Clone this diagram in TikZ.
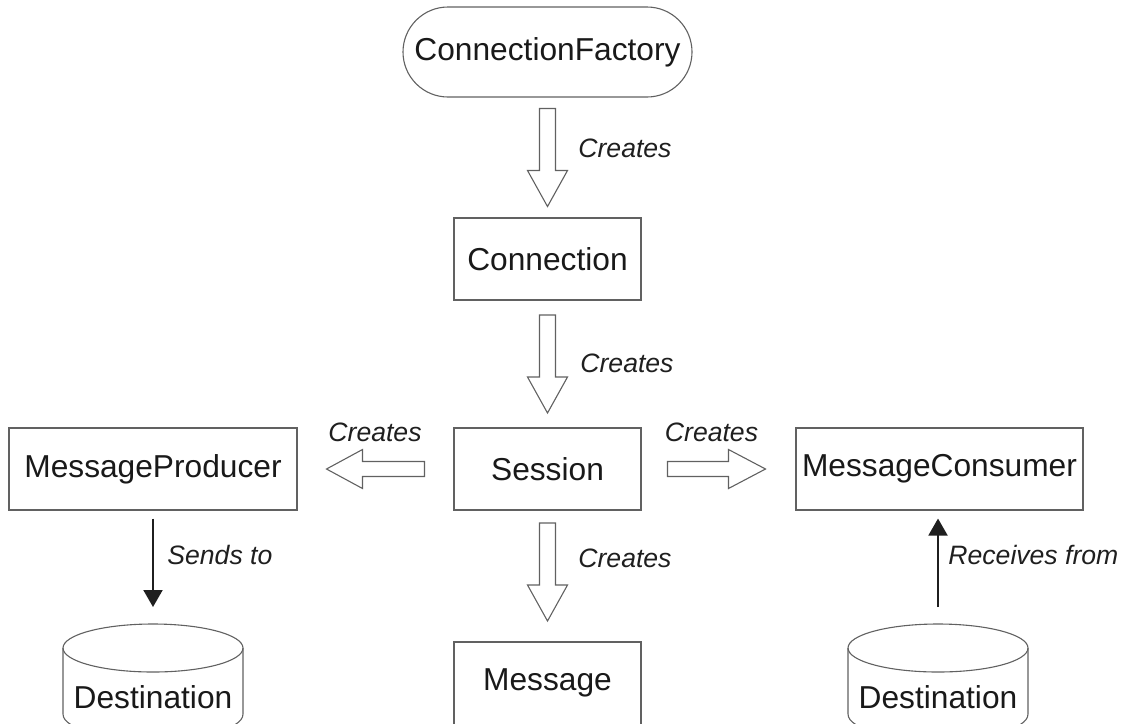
\documentclass[tikz,border=0pt]{standalone}
\usepackage{fontspec}
\setmainfont{Liberation Sans}
\usetikzlibrary{calc,arrows.meta}
\begin{document}
\begin{tikzpicture}[x=0.5pt,y=-0.5pt,
  box/.style={draw=black!62, line width=0.55pt, minimum width=93.5pt, minimum height=41pt, inner sep=0pt, font=\fontsize{15.85}{18}\selectfont, text=black!90},
  dtext/.style={inner sep=0pt, font=\fontsize{15.85}{18}\selectfont, text=black!90},
  lbl/.style={font=\fontsize{13.3}{16}\selectfont\itshape, text=black!88, inner sep=0pt},
  outl/.style={draw=black!62, line width=0.55pt, line join=miter},
  blk/.style={draw=black!88, line width=1pt, -{Triangle[length=8.5pt,width=9.5pt]}},
  pics/downarr/.style={code={\draw[outl] (-8,-49) -- (-8,13) -- (-20,13) -- (0,49) -- (20,13) -- (8,13) -- (8,-49) -- cycle;}},
  pics/leftarr/.style={code={\draw[outl] (49,-7.5) -- (-13,-7.5) -- (-13,-19.5) -- (-49,0) -- (-13,19.5) -- (-13,7.5) -- (49,7.5) -- cycle;}},
  pics/rightarr/.style={code={\draw[outl] (-49,-7.5) -- (12,-7.5) -- (12,-19.5) -- (49,0) -- (12,19.5) -- (12,7.5) -- (-49,7.5) -- cycle;}}
]
\useasboundingbox (0,0) rectangle (1122,723);
\clip (0,0) rectangle (1122,723);

% nodes
\node[box, rounded corners=22.5pt, minimum width=144.5pt, minimum height=45pt] (cf) at (547.5,52) {ConnectionFactory};
\node[box] (conn) at (547.5,259) {Connection};
\node[box] (sess) at (547.5,469) {Session};
\node[box, minimum width=144pt] (mp) at (153,469) {MessageProducer};
\node[box, minimum width=143.5pt] (mc) at (939.5,469) {MessageConsumer};
\node[box, minimum height=46pt] (msg) at (547.5,688) {\raisebox{8pt}{Message}};

% destinations (cylinders)
\node[dtext] (dst1) at (153,697) {Destination};
\coordinate (dst1top) at (153,624);
\draw[outl] (153,648) ellipse [x radius=90, y radius=24];
\draw[outl] (63,648) -- (63,714) .. controls (63,746) and (243,746) .. (243,714) -- (243,648);

\node[dtext] (dst2) at (938,697) {Destination};
\coordinate (dst2top) at (938,624);
\draw[outl] (938,648) ellipse [x radius=90, y radius=24];
\draw[outl] (848,648) -- (848,714) .. controls (848,746) and (1028,746) .. (1028,714) -- (1028,648);

% block arrows
\pic at ($(cf.south)!0.5!(conn.north)$) {downarr};
\pic at ($(conn.south)!0.5!(sess.north)$) {downarr};
\pic at ($(sess.south)!0.5!(msg.north)+(0,-4)$) {downarr};
\pic at ($(mp.east)!0.5!(sess.west)$) {leftarr};
\pic at ($(sess.east)!0.5!(mc.west)+(-2,0)$) {rightarr};

% labels
\node[lbl, anchor=west] (l1) at (578,148) {Creates};
\node[lbl, anchor=west] (l2) at (580,363) {Creates};
\node[lbl, anchor=west] (l3) at (578,558) {Creates};
\node[lbl] (l4) at (375,432) {Creates};
\node[lbl] (l5) at (711.5,432) {Creates};
\node[lbl, anchor=west] (l6) at (167,555) {Sends to};
\node[lbl, anchor=west] (l7) at (948,555) {Receives from};

% black arrows
\draw[blk, shorten <=4pt, shorten >=8.5pt] (mp.south) -- (dst1top);
\draw[blk, shorten <=8.5pt, shorten >=4pt] (dst2top) -- (dst2top |- mc.south);
\end{tikzpicture}
\end{document}
